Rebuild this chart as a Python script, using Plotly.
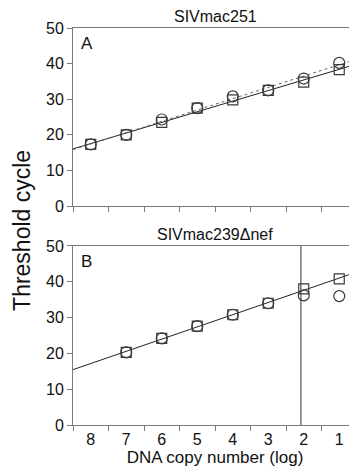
import numpy as np
import plotly.graph_objects as go

# ---- data ----
copies = [8, 7, 6, 5, 4, 3, 2, 1]
a_squares = [17.3, 20.0, 23.5, 27.5, 29.8, 32.5, 34.8, 38.3]
a_circles = [17.3, 20.0, 24.3, 27.5, 30.8, 32.5, 35.8, 40.2]

copies_b = [7, 6, 5, 4, 3, 2, 1]
b_squares = [20.3, 24.2, 27.6, 30.8, 34.0, 38.0, 40.8]
b_circles = [20.3, 24.2, 27.6, 30.8, 34.0, 36.2, 36.0]

cutoff_b = 2.08
x_tick_labels = ["8", "7", "6", "5", "4", "3", "2", "1"]
y_ticks = [0, 10, 20, 30, 40, 50]

XR = [8.5, 0.5]
mk = "#3a3a3a"
axc = "#7a7a7a"
FONT = "Liberation Sans, Arial, sans-serif"


def fitline(x, y):
    m, b = np.polyfit(x, y, 1)
    xs = np.array(XR)
    return xs, m * xs + b


fig = go.Figure()

# Panel A
xs, ys = fitline(copies, a_squares)
fig.add_trace(go.Scatter(x=xs, y=ys, mode="lines", line=dict(color="#222", width=1),
                         xaxis="x", yaxis="y", hoverinfo="skip"))
xs, ys = fitline(copies, a_circles)
fig.add_trace(go.Scatter(x=xs, y=ys, mode="lines", line=dict(color="#666", width=1, dash="dot"),
                         xaxis="x", yaxis="y", hoverinfo="skip"))
fig.add_trace(go.Scatter(x=copies, y=a_squares, mode="markers",
                         marker=dict(symbol="square-open", size=10, color=mk, line=dict(width=1.2)),
                         xaxis="x", yaxis="y"))
fig.add_trace(go.Scatter(x=copies, y=a_circles, mode="markers",
                         marker=dict(symbol="circle-open", size=11, color=mk, line=dict(width=1.2)),
                         xaxis="x", yaxis="y"))

# Panel B
xs, ys = fitline(copies_b, b_squares)
fig.add_trace(go.Scatter(x=xs, y=ys, mode="lines", line=dict(color="#222", width=1),
                         xaxis="x2", yaxis="y2", hoverinfo="skip"))
fig.add_trace(go.Scatter(x=copies_b, y=b_squares, mode="markers",
                         marker=dict(symbol="square-open", size=10, color=mk, line=dict(width=1.2)),
                         xaxis="x2", yaxis="y2"))
fig.add_trace(go.Scatter(x=copies_b, y=b_circles, mode="markers",
                         marker=dict(symbol="circle-open", size=11, color=mk, line=dict(width=1.2)),
                         xaxis="x2", yaxis="y2"))

minor = dict(tickvals=[8.5, 7.5, 6.5, 5.5, 4.5, 3.5, 2.5, 1.5], ticks="outside",
             ticklen=5, tickcolor=axc, tickwidth=1, showgrid=False)
xcommon = dict(range=XR, showgrid=False, zeroline=False, showline=True, linecolor=axc,
               linewidth=1, mirror=True, tickvals=copies, ticktext=x_tick_labels,
               ticks="", minor=minor, tickfont=dict(family=FONT, size=16, color="#111"))
ycommon = dict(range=[0, 50], showgrid=False, zeroline=False, showline=True, linecolor=axc,
               linewidth=1, tickvals=y_ticks, ticks="outside", ticklen=5, tickcolor=axc,
               tickfont=dict(family=FONT, size=16, color="#111"))

# the page body has an 8px default margin, so the figure is 8px smaller
fig.update_layout(
    width=349, height=465,
    margin=dict(l=65, r=0, t=20, b=48),
    paper_bgcolor="white", plot_bgcolor="white",
    showlegend=False,
    xaxis=dict(**xcommon, domain=[0, 1], anchor="y", showticklabels=False),
    yaxis=dict(**ycommon, domain=[0.5516, 1], anchor="x"),
    xaxis2=dict(**xcommon, domain=[0, 1], anchor="y2",
                title=dict(text="DNA copy number (log)", standoff=1,
                           font=dict(family=FONT, size=17, color="#111"))),
    yaxis2=dict(**ycommon, domain=[0, 0.4509], anchor="x2"),
    shapes=[dict(type="line", xref="x2", yref="y2 domain", x0=cutoff_b, x1=cutoff_b,
                 y0=0, y1=1, line=dict(color="#333", width=1))],
    annotations=[
        dict(text="SIVmac251", xref="paper", yref="paper", x=0.5, y=1.0, yshift=1,
             xanchor="center", yanchor="bottom", showarrow=False,
             font=dict(family=FONT, size=16, color="#111")),
        dict(text="SIVmac239\u0394nef", xref="paper", yref="paper", x=0.5, y=0.4509, yshift=1,
             xanchor="center", yanchor="bottom", showarrow=False,
             font=dict(family=FONT, size=16, color="#111")),
        dict(text="A", xref="paper", yref="paper", x=0.02, y=0.99,
             xanchor="left", yanchor="top", showarrow=False,
             font=dict(family=FONT, size=17, color="#111")),
        dict(text="B", xref="paper", yref="paper", x=0.02, y=0.442,
             xanchor="left", yanchor="top", showarrow=False,
             font=dict(family=FONT, size=17, color="#111")),
        dict(text="Threshold cycle", xref="paper", yref="paper", x=-0.178, y=0.49,
             xanchor="center", yanchor="middle", textangle=-90, showarrow=False,
             font=dict(family=FONT, size=23, color="#111")),
    ],
)

fig.write_html("out.html")
